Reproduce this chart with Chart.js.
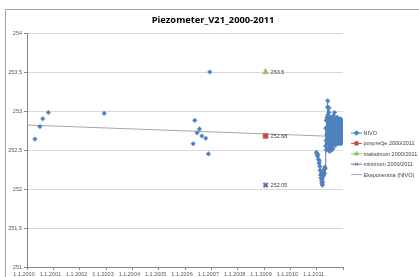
<!DOCTYPE html>
<html><head><meta charset="utf-8">
<script src="https://cdn.jsdelivr.net/npm/chart.js@4/dist/chart.umd.min.js"></script>
<style>html,body{margin:0;padding:0;background:#fff;overflow:hidden}#wrap{position:relative;width:419px;height:277px}</style>
</head><body><div id="wrap"><canvas id="c" width="419" height="277"></canvas></div>
<script>
const chartTitle = 'Piezometer_V21_2000-2011';
const seriesLabels = ['NIVO', 'povprečje 2000/2011', 'maksimum 2000/2011', 'minimum 2000/2011', 'Eksponentna (NIVO)'];
const xTickYears = [2000, 2001, 2002, 2003, 2004, 2005, 2006, 2007, 2008, 2009, 2010, 2011, 2012];
const yTickValues = [251, 251.5, 252, 252.5, 253, 253.5, 254];

// NIVO measurements (decimal year, level); null = gap in the measurement record
const nivoDates = [
  2000.30, 2000.40, 2000.49, 2000.55, 2000.60, 2000.70, 2000.81, 2001.50, 2002.93, 2004.00,
  2006.31, 2006.34, 2006.37, 2006.42, 2006.46, 2006.50, 2006.55, 2006.60, 2006.64, 2006.70,
  2006.79, 2006.84, 2006.89, 2006.91, 2006.94, 2008.00,
  2010.99, 2011.01, 2011.03, 2011.05, 2011.07, 2011.09, 2011.10, 2011.12, 2011.13, 2011.15,
  2011.16, 2011.18, 2011.19, 2011.20, 2011.21, 2011.22, 2011.23, 2011.24, 2011.26, 2011.27,
  2011.28, 2011.30, 2011.31, 2011.32,
  2011.340, 2011.348, 2011.356, 2011.364, 2011.372, 2011.380, 2011.388, 2011.396, 2011.404, 2011.412,
  2011.420, 2011.428, 2011.436, 2011.444, 2011.452, 2011.460, 2011.468, 2011.476, 2011.484, 2011.492,
  2011.500, 2011.508, 2011.516, 2011.524, 2011.532, 2011.540, 2011.548, 2011.556, 2011.564, 2011.572,
  2011.580, 2011.588, 2011.596, 2011.604, 2011.612, 2011.620, 2011.628, 2011.636, 2011.644, 2011.652,
  2011.660, 2011.668, 2011.676, 2011.684, 2011.692, 2011.700, 2011.708, 2011.716, 2011.724, 2011.732,
  2011.740, 2011.748, 2011.756, 2011.764, 2011.772, 2011.780, 2011.788, 2011.796, 2011.804, 2011.812,
  2011.820, 2011.828, 2011.836, 2011.844, 2011.852, 2011.860, 2011.868, 2011.876, 2011.884, 2011.892,
  2011.900, 2011.908, 2011.916, 2011.924, 2011.932, 2011.940, 2011.948, 2011.956, 2011.964, 2011.972,
  2011.980, 2011.988
];
const nivoValues = [
  252.64, null, 252.80, null, 252.90, null, 252.98, null, 252.97, null,
  252.58, null, 252.88, null, 252.72, null, 252.77, null, 252.68, null,
  252.65, null, 252.45, null, 253.50, null,
  252.47, 252.45, 252.42, 252.44, 252.38, 252.33, 252.36, 252.29, 252.24, 252.18,
  252.14, 252.20, 252.10, 252.07, 252.13, 252.05, 252.09, 252.16, 252.22, 252.18,
  252.25, 252.20, 252.28, 252.26,
  252.55, 252.78, 252.62, 252.88, 252.50, 252.70, 252.92, 252.58, 252.80, 253.05,
  253.13, 252.95, 252.66, 252.52, 252.74, 252.98, 253.04, 252.85, 252.60, 252.48,
  252.70, 252.90, 252.82, 252.56, 252.64, 252.86, 252.92, 252.72, 252.54, 252.50,
  252.68, 252.84, 252.78, 252.60, 252.52, 252.74, 252.88, 252.94, 252.70, 252.58,
  252.66, 252.82, 252.98, 252.90, 252.72, 252.62, 252.56, 252.76, 252.86, 252.80,
  252.64, 252.58, 252.70, 252.88, 252.92, 252.74, 252.60, 252.66, 252.84, 252.90,
  252.78, 252.62, 252.58, 252.72, 252.86, 252.88, 252.70, 252.60, 252.64, 252.80,
  252.90, 252.84, 252.66, 252.58, 252.68, 252.82, 252.88, 252.76, 252.62, 252.60,
  252.74, 252.86
];
const statDates = [2009.06];
const avgValues = [252.68];
const maxValues = [253.5];
const minValues = [252.05];
const trendDates = [2000, 2012];
const trendValues = [252.82, 252.67];

const pts = (xs, ys) => xs.map((x, i) => ({ x: x, y: ys[i] }));
const FONT = "'Liberation Sans', Arial, sans-serif";

const frame = {
  id: 'frame',
  beforeDraw(chart) {
    const ctx = chart.ctx;
    ctx.save();
    ctx.strokeStyle = '#a0a0a0';
    ctx.lineWidth = 1;
    ctx.beginPath();
    ctx.moveTo(5.5, 280); ctx.lineTo(5.5, 9.5); ctx.lineTo(425, 9.5);
    ctx.stroke();
    ctx.fillStyle = '#000';
    ctx.font = "bold 9.3px 'Open Sans', sans-serif";
    ctx.textAlign = 'center';
    ctx.textBaseline = 'middle';
    ctx.fillText(chartTitle, 213, 20);
    ctx.restore();
  },
  afterDraw(chart) {
    const ctx = chart.ctx;
    ctx.save();
    ctx.font = '5.5px ' + FONT;
    ctx.fillStyle = '#404040';
    ctx.textBaseline = 'middle';
    ctx.textAlign = 'left';
    [1, 2, 3].forEach(di => {
      const meta = chart.getDatasetMeta(di);
      const ds = chart.data.datasets[di];
      meta.data.forEach((el, i) => {
        ctx.fillText(String(ds.data[i].y), el.x + 5, el.y + 0.5);
      });
    });
    chart.data.datasets.forEach((ds, i) => {
      const y = 133 + 10.4 * i;
      ctx.strokeStyle = ds.borderColor;
      ctx.lineWidth = ds.borderWidth || 1;
      ctx.beginPath(); ctx.moveTo(351, y); ctx.lineTo(362, y); ctx.stroke();
      if (ds.pointRadius > 0) {
        ctx.fillStyle = ds.pointBackgroundColor;
        ctx.strokeStyle = ds.pointBorderColor;
        Chart.helpers.drawPoint(ctx, { pointStyle: ds.pointStyle, radius: Math.min(ds.pointRadius, 2.3), borderWidth: ds.pointBorderWidth, rotation: 0 }, 356.5, y);
      }
      ctx.fillStyle = '#404040';
      ctx.font = '5.5px ' + FONT;
      ctx.fillText(ds.label, 363.5, y + 0.5);
    });
    ctx.restore();
  }
};

new Chart(document.getElementById('c'), {
  type: 'scatter',
  data: {
    datasets: [
      { label: seriesLabels[0], data: pts(nivoDates, nivoValues), showLine: true, spanGaps: false,
        borderColor: '#4F81BD', borderWidth: 1, pointStyle: 'rectRot', pointRadius: 2.3,
        pointBackgroundColor: '#4F81BD', pointBorderColor: '#4F81BD', pointBorderWidth: 0.5 },
      { label: seriesLabels[1], data: pts(statDates, avgValues), borderColor: '#C0504D', borderWidth: 1,
        pointStyle: 'rect', pointRadius: 3.5, pointBackgroundColor: '#C0504D', pointBorderColor: '#C0504D', pointBorderWidth: 0.5 },
      { label: seriesLabels[2], data: pts(statDates, maxValues), borderColor: '#9BBB59', borderWidth: 1,
        pointStyle: 'triangle', pointRadius: 3.5, pointBackgroundColor: '#9BBB59', pointBorderColor: '#9BBB59', pointBorderWidth: 0.5 },
      { label: seriesLabels[3], data: pts(statDates, minValues), borderColor: '#8064A2', borderWidth: 1,
        pointStyle: 'crossRot', pointRadius: 3, pointBackgroundColor: '#8064A2', pointBorderColor: '#8064A2', pointBorderWidth: 2 },
      { label: seriesLabels[4], data: pts(trendDates, trendValues), showLine: true, borderColor: '#a6a6a6', borderWidth: 1,
        pointRadius: 0, pointHoverRadius: 0, pointStyle: 'circle', pointBackgroundColor: '#a6a6a6', pointBorderColor: '#a6a6a6' }
    ]
  },
  options: {
    responsive: false, animation: false, devicePixelRatio: 1,
    layout: { padding: { left: 0, right: 76, top: 33, bottom: 0 } },
    plugins: { legend: { display: false }, title: { display: false }, tooltip: { enabled: false } },
    scales: {
      x: {
        type: 'linear', min: xTickYears[0], max: xTickYears[xTickYears.length - 1],
        afterFit: s => { s.height = 10; },
        afterBuildTicks: s => { s.ticks = xTickYears.map(v => ({ value: v })); },
        ticks: { callback: v => v < 2012 ? '1.1.' + v : '', font: { size: 5.5, family: FONT }, color: '#595959',
          maxRotation: 0, minRotation: 0, autoSkip: false, padding: 1, labelOffset: -3 },
        grid: { drawOnChartArea: false, drawTicks: true, tickLength: 3, color: '#868686', tickColor: '#868686' },
        border: { color: '#868686' }
      },
      y: {
        min: yTickValues[0], max: yTickValues[yTickValues.length - 1],
        afterFit: s => { s.width = 27; },
        afterBuildTicks: s => { s.ticks = yTickValues.map(v => ({ value: v })); },
        ticks: { callback: v => String(v), font: { size: 5.5, family: FONT }, color: '#595959', padding: 2 },
        grid: { color: '#d9d9d9', tickLength: 3, tickColor: '#868686' },
        border: { color: '#868686' }
      }
    }
  },
  plugins: [frame]
});
</script>
</body></html>
